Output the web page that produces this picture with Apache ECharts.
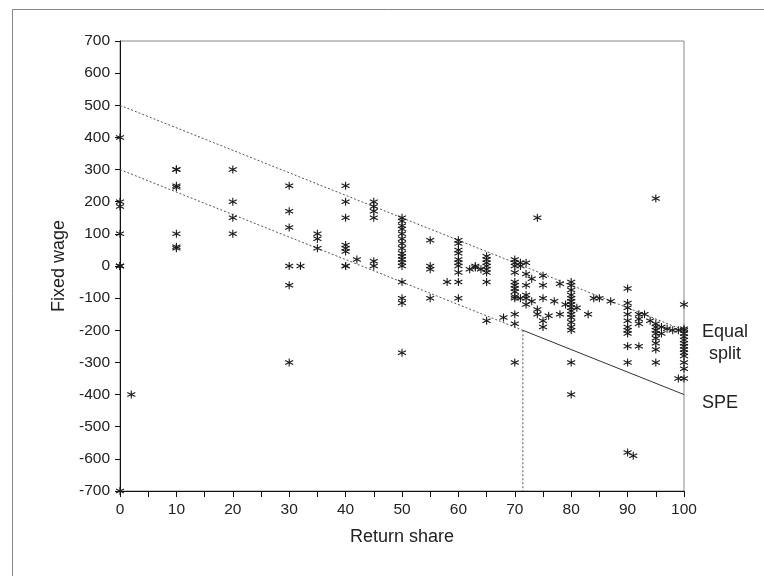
<!DOCTYPE html>
<html>
<head>
<meta charset="utf-8">
<script src="https://cdn.jsdelivr.net/npm/echarts@6/dist/echarts.min.js"></script>
<style>
html,body{margin:0;padding:0;background:#fff;}
#c{width:764px;height:576px;}
</style>
</head>
<body>
<div id="c"></div>
<script>
// Observations: return share (x) and fixed wage (y)
const returnShare = [
  0,0,0,0,0,0,0,0,
  2,
  10,10,10,10,10,10,10,
  20,20,20,20,
  30,30,30,30,30,30,
  32,
  35,35,35,
  40,40,40,40,40,40,40,40,
  42,
  45,45,45,45,45,45,
  50,50,50,50,50,50,50,50,50,50,50,50,50,50,50,50,50,
  55,55,55,55,
  58,
  60,60,60,60,60,60,60,60,60,60,
  62,63,63,64,
  65,65,65,65,65,65,65,65,
  68,
  70,70,70,70,70,70,70,70,70,70,70,70,70,
  71,71,71,
  72,72,72,72,72,72,
  73,73,
  74,74,74,
  75,75,75,75,75,
  76,77,78,78,79,
  80,80,80,80,80,80,80,80,80,80,80,80,80,80,80,80,
  81,83,84,85,87,
  90,90,90,90,90,90,90,90,90,90,90,
  91,
  92,92,92,92,
  93,94,
  95,95,95,95,95,95,95,95,95,
  96,96,97,98,99,99,
  100,100,100,100,100,100,100,100,100,100,100,100,100,100
];
const fixedWage = [
  400,200,185,100,0,0,0,-700,
  -400,
  300,300,250,245,100,60,55,
  300,200,150,100,
  250,170,120,0,-60,-300,
  0,
  100,85,55,
  250,200,150,65,55,45,0,0,
  20,
  200,185,170,150,15,0,
  150,140,125,115,100,85,70,55,40,30,20,10,0,-50,-100,-115,-270,
  80,0,-10,-100,
  -50,
  80,70,50,40,20,10,0,-20,-50,-100,
  -10,0,-5,-10,
  30,20,10,0,-10,-20,-50,-170,
  -160,
  20,10,0,-20,-50,-60,-70,-80,-95,-100,-150,-180,-300,
  10,0,-100,
  10,-25,-60,-90,-100,-120,
  -40,-110,
  150,-135,-150,
  -30,-60,-100,-170,-190,
  -155,-110,-55,-150,-120,
  -50,-60,-75,-90,-100,-110,-120,-130,-140,-150,-160,-175,-190,-200,-300,-400,
  -130,-150,-100,-100,-110,
  -70,-115,-130,-150,-170,-190,-200,-210,-250,-300,-580,
  -590,
  -150,-165,-180,-250,
  -150,-170,
  210,-180,-190,-200,-210,-225,-240,-260,-300,
  -190,-210,-195,-200,-200,-350,
  -120,-195,-200,-210,-220,-230,-240,-250,-260,-270,-280,-300,-320,-350
];

// Reference lines
const equalSplitLine = [[0, 500], [100, -200]];
const speDottedLine = [[0, 300], [71.43, -200]];
const speSolidLine = [[71.43, -200], [100, -400]];
const speVerticalLine = [[71.43, -200], [71.43, -700]];

const xTickLabels = ['0','10','20','30','40','50','60','70','80','90','100'];
const yTickLabels = ['-700','-600','-500','-400','-300','-200','-100','0','100','200','300','400','500','600','700'];

const points = returnShare.map((x, i) => [x, fixedWage[i]]);

const FONT = 'Liberation Sans, Arial, sans-serif';
const starPath = 'path://M5,0L5,10M0.67,2.5L9.33,7.5M0.67,7.5L9.33,2.5';

const chart = echarts.init(document.getElementById('c'), null, {renderer: 'canvas'});
const dotted = {color: '#555', width: 1, type: [2, 2]};

chart.setOption({
  animation: false,
  backgroundColor: '#fff',
  graphic: [{
    type: 'rect', left: 10, top: 7, z: -10,
    shape: {x: 0, y: 0, width: 800, height: 620},
    style: {fill: 'none', stroke: '#888', lineWidth: 1}
  }],
  grid: {left: 120, right: 80, top: 41, bottom: 85, show: true, borderColor: '#888', borderWidth: 1, backgroundColor: 'transparent'},
  xAxis: {
    type: 'value', min: 0, max: 100, interval: 5,
    name: 'Return share', nameLocation: 'middle', nameGap: 37,
    nameTextStyle: {fontFamily: FONT, fontSize: 18, color: '#222'},
    axisLine: {show: true, onZero: false, lineStyle: {color: '#111', width: 1}},
    axisTick: {show: true, length: 6, lineStyle: {color: '#111'}},
    axisLabel: {
      fontFamily: FONT, fontSize: 15.5, color: '#222', margin: 11,
      formatter: v => xTickLabels.includes(String(v)) ? String(v) : ''
    },
    splitLine: {show: false}
  },
  yAxis: {
    type: 'value', min: -700, max: 700, interval: 100,
    name: 'Fixed wage', nameLocation: 'middle', nameGap: 50,
    nameTextStyle: {fontFamily: FONT, fontSize: 18, color: '#222'},
    axisLine: {show: true, onZero: false, lineStyle: {color: '#111', width: 1}},
    axisTick: {show: true, length: 5, lineStyle: {color: '#111'}},
    axisLabel: {
      fontFamily: FONT, fontSize: 15.5, color: '#222', margin: 10,
      formatter: v => yTickLabels.includes(String(v)) ? String(v) : ''
    },
    splitLine: {show: false}
  },
  series: [
    {
      type: 'line', data: equalSplitLine, symbol: 'none', lineStyle: dotted, silent: true,
      endLabel: {show: true, formatter: 'Equal\nsplit', fontFamily: FONT, fontSize: 18, color: '#222', lineHeight: 22, align: 'center', offset: [33, 13]}
    },
    {type: 'line', data: speDottedLine, symbol: 'none', lineStyle: dotted, silent: true},
    {
      type: 'line', data: speSolidLine, symbol: 'none', lineStyle: {color: '#333', width: 1}, silent: true,
      endLabel: {show: true, formatter: 'SPE', fontFamily: FONT, fontSize: 18, color: '#222', offset: [10, 8]}
    },
    {type: 'line', data: speVerticalLine, symbol: 'none', lineStyle: dotted, silent: true},
    {
      type: 'scatter', data: points, symbol: starPath, symbolSize: 8,
      itemStyle: {color: 'rgba(0,0,0,0)', borderColor: '#1a1a1a', borderWidth: 1.1, opacity: 1},
      z: 5
    }
  ]
});
</script>
</body>
</html>
